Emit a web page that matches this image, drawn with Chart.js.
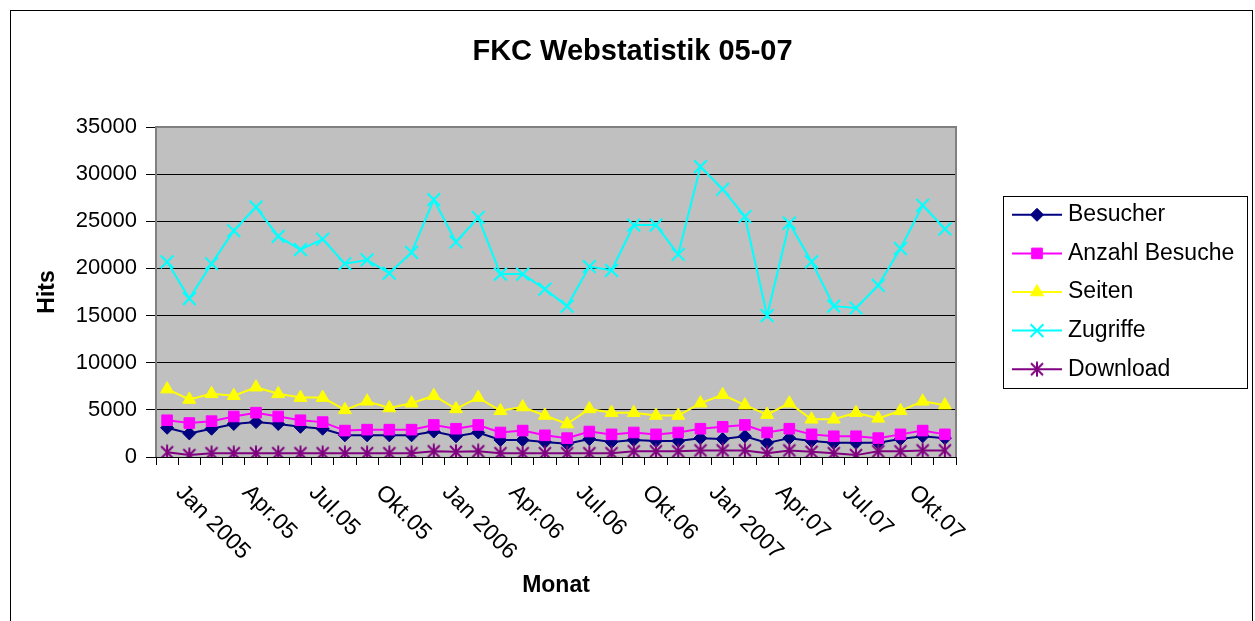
<!DOCTYPE html>
<html>
<head>
<meta charset="utf-8">
<script src="https://cdn.jsdelivr.net/npm/chart.js"></script>
<style>
  html, body { margin: 0; padding: 0; background: #fff; }
  canvas { display: block; }
</style>
</head>
<body>
<canvas id="chart" width="1255" height="621"></canvas>
<script>
// Monate Jan 2005 - Dez 2007, beschriftet wird jeder dritte
const months = [
  'Jan 2005', 'Feb.05', 'Mrz.05', 'Apr.05', 'Mai.05', 'Jun.05', 'Jul.05', 'Aug.05', 'Sep.05', 'Okt.05', 'Nov.05', 'Dez.05',
  'Jan 2006', 'Feb.06', 'Mrz.06', 'Apr.06', 'Mai.06', 'Jun.06', 'Jul.06', 'Aug.06', 'Sep.06', 'Okt.06', 'Nov.06', 'Dez.06',
  'Jan 2007', 'Feb.07', 'Mrz.07', 'Apr.07', 'Mai.07', 'Jun.07', 'Jul.07', 'Aug.07', 'Sep.07', 'Okt.07', 'Nov.07', 'Dez.07'
]

const besucher = [3100, 2500, 3000, 3500, 3700, 3500, 3200, 3000, 2300, 2300, 2300, 2300,
  2700, 2200, 2600, 1800, 1800, 1600, 1400, 1900, 1600, 1800, 1700, 1700,
  2000, 1900, 2200, 1500, 2000, 1700, 1500, 1500, 1500, 1900, 2200, 2000]

const anzahlBesuche = [3900, 3600, 3800, 4300, 4700, 4300, 3900, 3700, 2800, 2900, 2900, 2900,
  3400, 3000, 3400, 2600, 2800, 2300, 2000, 2700, 2400, 2600, 2400, 2600,
  3000, 3200, 3400, 2600, 3000, 2400, 2200, 2200, 2000, 2400, 2800, 2400]

const seiten = [7200, 6100, 6700, 6500, 7400, 6700, 6300, 6300, 5000, 5900, 5200, 5700,
  6500, 5100, 6300, 4900, 5300, 4400, 3500, 5100, 4700, 4700, 4400, 4400,
  5700, 6600, 5500, 4500, 5700, 4000, 4000, 4700, 4100, 4900, 5900, 5500]

const zugriffe = [20700, 16800, 20500, 24000, 26500, 23400, 22000, 23100, 20500, 20900, 19500, 21700,
  27300, 22800, 25400, 19400, 19400, 17800, 16000, 20200, 19800, 24600, 24600, 21500,
  30800, 28400, 25500, 15000, 24800, 20700, 16000, 15800, 18200, 22100, 26700, 24200]

const download = [500, 200, 400, 400, 400, 400, 400, 400, 400, 400, 400, 400,
  600, 550, 600, 400, 400, 400, 400, 400, 400, 600, 600, 600,
  700, 700, 700, 400, 700, 550, 400, 200, 600, 600, 700, 700]

Chart.defaults.font.family = '"Liberation Sans", Arial, sans-serif'
Chart.defaults.color = '#000'

// Excel-Stern: X mit senkrechtem Strich
const starMarker = (() => {
  const c = document.createElement('canvas')
  c.width = 16
  c.height = 16
  const g = c.getContext('2d')
  g.strokeStyle = '#800080'
  g.lineWidth = 2
  g.beginPath()
  g.moveTo(2, 2); g.lineTo(14, 14)
  g.moveTo(14, 2); g.lineTo(2, 14)
  g.moveTo(8, 0.5); g.lineTo(8, 15.5)
  g.stroke()
  return c
})()

const series = (label, data, color, style, radius, order) => ({
  label: label,
  data: data,
  borderColor: color,
  backgroundColor: color,
  pointBackgroundColor: color,
  pointBorderColor: color,
  pointStyle: style,
  pointRadius: radius,
  pointBorderWidth: style === 'crossRot' ? 2 : 1,
  borderWidth: 2,
  tension: 0,
  order: order
})

const excelLook = {
  id: 'excelLook',
  beforeDraw(chart) {
    const {ctx, chartArea: a} = chart
    ctx.save()
    ctx.fillStyle = '#fff'
    ctx.fillRect(0, 0, chart.width, chart.height)
    ctx.strokeStyle = '#000'
    ctx.lineWidth = 1
    ctx.strokeRect(10.5, 10.5, chart.width - 13, chart.height + 5)
    ctx.fillStyle = '#c0c0c0'
    ctx.fillRect(a.left, a.top, a.right - a.left, a.bottom - a.top)
    ctx.restore()
  },
  beforeDatasetsDraw(chart) {
    const {ctx, chartArea: a} = chart
    ctx.save()
    ctx.strokeStyle = '#808080'
    ctx.lineWidth = 2
    ctx.beginPath()
    ctx.moveTo(a.left, a.bottom)
    ctx.lineTo(a.left, a.top)
    ctx.lineTo(a.right, a.top)
    ctx.lineTo(a.right, a.bottom)
    ctx.stroke()
    ctx.restore()
  },
  afterDraw(chart) {
    const {ctx, chartArea: a} = chart
    const x = chart.scales.x

    // schraege Monatsbeschriftung, nach rechts unten laufend
    ctx.save()
    ctx.font = '23px "Liberation Sans", Arial, sans-serif'
    ctx.fillStyle = '#000'
    ctx.textAlign = 'left'
    ctx.textBaseline = 'middle'
    months.forEach((m, i) => {
      if (i % 3 !== 0) return
      ctx.save()
      ctx.translate(x.getPixelForValue(i) + 12, a.bottom + 32)
      ctx.rotate(Math.PI / 4)
      ctx.fillText(m, 0, 0)
      ctx.restore()
    })
    ctx.restore()

    // Legende mit Linie und Markierung
    const box = {left: 1003, top: 196, right: 1247, bottom: 388}
    const cy = (box.top + box.bottom) / 2
    const step = 38.6
    const sets = chart.data.datasets
    ctx.save()
    ctx.strokeStyle = '#000'
    ctx.lineWidth = 1
    ctx.strokeRect(box.left + 0.5, box.top + 0.5, box.right - box.left, box.bottom - box.top)
    ctx.font = '23px "Liberation Sans", Arial, sans-serif'
    ctx.textBaseline = 'middle'
    ctx.textAlign = 'left'
    sets.forEach((ds, i) => {
      const y = cy + (i - (sets.length - 1) / 2) * step
      ctx.strokeStyle = ds.borderColor
      ctx.lineWidth = 2
      ctx.beginPath()
      ctx.moveTo(1012, y)
      ctx.lineTo(1062, y)
      ctx.stroke()
      if (Chart.helpers && Chart.helpers.drawPoint) {
        ctx.fillStyle = ds.pointBackgroundColor
        ctx.strokeStyle = ds.pointBorderColor
        ctx.lineWidth = ds.pointBorderWidth
        Chart.helpers.drawPoint(ctx, {pointStyle: ds.pointStyle, radius: ds.pointRadius, borderWidth: ds.pointBorderWidth, rotation: 0}, 1037, y)
      }
      ctx.fillStyle = '#000'
      ctx.fillText(ds.label, 1068, y)
    })
    ctx.restore()
  }
}

new Chart(document.getElementById('chart'), {
  type: 'line',
  data: {
    labels: months,
    datasets: [
      series('Besucher', besucher, '#000080', 'rectRot', 6.5, 5),
      series('Anzahl Besuche', anzahlBesuche, '#ff00ff', 'rect', 7.5, 4),
      series('Seiten', seiten, '#ffff00', 'triangle', 7.5, 3),
      series('Zugriffe', zugriffe, '#00ffff', 'crossRot', 9, 2),
      series('Download', download, '#800080', starMarker, 7, 1)
    ]
  },
  options: {
    responsive: false,
    animation: false,
    events: [],
    layout: {padding: {left: 10, top: 0, right: 0, bottom: 0}},
    plugins: {
      legend: {display: false},
      tooltip: {enabled: false},
      title: {
        display: true,
        text: 'FKC Webstatistik 05-07',
        color: '#000',
        font: {size: 29, weight: 'bold'},
        padding: {top: 34.6, bottom: 57.6}
      }
    },
    scales: {
      x: {
        offset: true,
        grid: {display: true, drawOnChartArea: false, drawTicks: true, tickLength: 8, color: '#000', offset: true},
        border: {display: true, color: '#000', width: 1},
        ticks: {display: false, autoSkip: false},
        title: {display: true, text: 'Monat', color: '#000', font: {size: 23, weight: 'bold'}, padding: {top: 0, bottom: 22}},
        afterFit: (s) => { s.height = 164 }
      },
      y: {
        min: 0,
        max: 35000,
        ticks: {stepSize: 5000, font: {size: 22}, color: '#000', padding: 9, callback: (v) => String(v)},
        grid: {color: '#000', lineWidth: 1, tickLength: 10},
        border: {display: false},
        title: {display: true, text: 'Hits', color: '#000', font: {size: 23, weight: 'bold'}, padding: {top: 24, bottom: 0}},
        afterFit: (s) => { s.width = 146 }
      },
      legendSpace: {
        position: 'right',
        display: true,
        grid: {display: false},
        border: {display: false},
        ticks: {display: false},
        afterFit: (s) => { s.width = 299 }
      }
    }
  },
  plugins: [excelLook]
})
</script>
</body>
</html>
